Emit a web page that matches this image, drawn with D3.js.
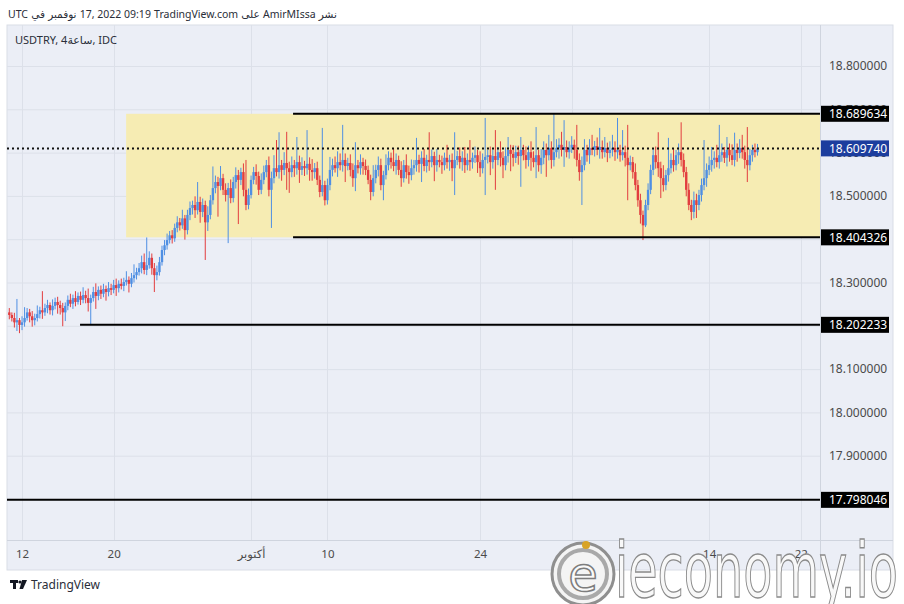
<!DOCTYPE html>
<html><head><meta charset="utf-8">
<script src="https://cdn.jsdelivr.net/npm/d3@7"></script>
<style>body{margin:0;background:#fff;} svg{display:block;font-family:"Noto Sans","DejaVu Sans",sans-serif;}</style>
</head><body><svg id="c" width="904" height="604"></svg>
<script>
// ---- data (USDTRY 4h bars, ~Sep 9 to Nov 17 2022) ----
const open=[18.231,18.225,18.218,18.208,18.213,18.202,18.208,18.218,18.231,18.222,
18.213,18.218,18.227,18.236,18.231,18.241,18.248,18.236,18.246,18.255,
18.248,18.241,18.231,18.246,18.260,18.251,18.264,18.255,18.269,18.260,
18.271,18.264,18.253,18.264,18.278,18.269,18.283,18.274,18.285,18.278,
18.287,18.283,18.294,18.287,18.297,18.292,18.301,18.306,18.297,18.310,
18.317,18.324,18.333,18.347,18.329,18.340,18.357,18.333,18.317,18.324,
18.347,18.375,18.386,18.398,18.409,18.402,18.426,18.439,18.432,18.448,
18.421,18.456,18.472,18.479,18.467,18.486,18.463,18.479,18.439,18.456,
18.490,18.518,18.532,18.523,18.541,18.514,18.502,18.518,18.495,18.532,
18.548,18.537,18.555,18.514,18.479,18.502,18.537,18.555,18.546,18.514,
18.537,18.555,18.571,18.514,18.541,18.564,18.555,18.571,18.560,18.576,
18.564,18.555,18.571,18.564,18.578,18.560,18.569,18.564,18.574,18.560,
18.555,18.564,18.537,18.509,18.525,18.490,18.525,18.560,18.571,18.564,
18.578,18.571,18.583,18.569,18.576,18.560,18.541,18.571,18.564,18.578,
18.569,18.560,18.537,18.509,18.541,18.560,18.571,18.525,18.548,18.571,
18.588,18.578,18.569,18.583,18.560,18.541,18.571,18.555,18.548,18.564,
18.571,18.583,18.574,18.588,18.569,18.583,18.578,18.592,18.571,18.583,
18.578,18.571,18.588,18.578,18.583,18.564,18.583,18.592,18.578,18.588,
18.571,18.583,18.578,18.588,18.594,18.578,18.564,18.583,18.590,18.594,
18.578,18.592,18.583,18.601,18.588,18.571,18.592,18.606,18.597,18.588,
18.601,18.592,18.606,18.594,18.583,18.601,18.588,18.578,18.594,18.571,
18.588,18.606,18.594,18.611,18.583,18.601,18.611,18.618,18.606,18.613,
18.601,18.611,18.618,18.606,18.583,18.555,18.571,18.606,18.594,18.611,
18.606,18.615,18.606,18.613,18.601,18.611,18.599,18.606,18.611,18.601,
18.606,18.594,18.601,18.588,18.571,18.578,18.555,18.525,18.490,18.456,
18.432,18.479,18.514,18.560,18.594,18.578,18.564,18.541,18.525,18.548,
18.564,18.583,18.571,18.594,18.601,18.583,18.555,18.514,18.479,18.463,
18.490,18.479,18.502,18.525,18.541,18.560,18.571,18.583,18.588,18.578,
18.594,18.601,18.588,18.606,18.594,18.583,18.606,18.599,18.611,18.601,
18.583,18.571,18.594,18.606,18.601];
const high=[18.241,18.231,18.230,18.262,18.218,18.222,18.243,18.241,18.239,18.234,
18.228,18.247,18.244,18.280,18.251,18.260,18.254,18.261,18.265,18.267,
18.258,18.253,18.254,18.270,18.274,18.272,18.280,18.277,18.279,18.289,
18.281,18.286,18.272,18.290,18.298,18.291,18.293,18.297,18.293,18.301,
18.297,18.306,18.309,18.305,18.309,18.311,18.326,18.314,18.322,18.342,
18.334,18.345,18.362,18.367,18.404,18.372,18.367,18.345,18.339,18.359,
18.385,18.398,18.413,18.419,18.421,18.436,18.453,18.449,18.468,18.456,
18.468,18.487,18.489,18.499,18.532,18.498,18.494,18.489,18.476,18.502,
18.568,18.547,18.544,18.569,18.551,18.529,18.530,18.538,18.544,18.566,
18.560,18.565,18.575,18.583,18.517,18.547,18.567,18.573,18.556,18.552,
18.570,18.583,18.591,18.556,18.594,18.629,18.647,18.583,18.601,18.648,
18.579,18.591,18.583,18.636,18.593,18.589,18.581,18.652,18.589,18.585,
18.576,18.579,18.547,18.657,18.535,18.540,18.590,18.586,18.591,18.603,
18.598,18.664,18.598,18.588,18.596,18.575,18.624,18.583,18.596,18.588,
18.584,18.570,18.549,18.571,18.572,18.591,18.586,18.558,18.596,18.603,
18.600,18.608,18.598,18.593,18.580,18.583,18.596,18.570,18.584,18.583,
18.634,18.595,18.603,18.608,18.595,18.647,18.607,18.602,18.608,18.595,
18.593,18.600,18.618,18.595,18.598,18.647,18.604,18.612,18.603,18.613,
18.598,18.629,18.600,18.614,18.606,18.603,18.598,18.680,18.606,18.614,
18.607,18.652,18.613,18.626,18.603,18.612,18.636,18.618,18.617,18.616,
18.616,18.636,18.618,18.614,18.616,18.626,18.603,18.659,18.606,18.608,
18.626,18.621,18.641,18.626,18.690,18.631,18.633,18.648,18.675,18.628,
18.626,18.638,18.630,18.664,18.598,18.591,18.631,18.618,18.631,18.641,
18.627,18.635,18.657,18.628,18.636,18.623,18.626,18.641,18.626,18.680,
18.618,18.652,18.616,18.664,18.593,18.590,18.575,18.537,18.505,18.466,
18.491,18.529,18.572,18.609,18.614,18.647,18.579,18.571,18.560,18.634,
18.598,18.608,18.606,18.621,18.670,18.598,18.567,18.529,18.491,18.510,
18.505,18.514,18.540,18.629,18.575,18.591,18.613,18.603,18.618,18.664,
18.621,18.613,18.636,18.621,18.619,18.646,18.621,18.631,18.641,18.616,
18.659,18.609,18.618,18.621,18.620];
const low=[18.215,18.210,18.196,18.188,18.183,18.190,18.198,18.212,18.208,18.198,
18.201,18.210,18.217,18.216,18.223,18.229,18.226,18.224,18.238,18.228,
18.226,18.199,18.211,18.236,18.243,18.239,18.245,18.249,18.248,18.252,
18.252,18.233,18.203,18.256,18.239,18.259,18.262,18.266,18.258,18.268,
18.271,18.275,18.269,18.277,18.284,18.280,18.293,18.277,18.289,18.300,
18.307,18.316,18.321,18.319,18.317,18.332,18.318,18.278,18.305,18.316,
18.339,18.363,18.376,18.390,18.390,18.394,18.416,18.420,18.424,18.399,
18.411,18.444,18.457,18.449,18.457,18.438,18.451,18.352,18.419,18.446,
18.480,18.506,18.452,18.513,18.502,18.487,18.391,18.483,18.485,18.517,
18.435,18.525,18.499,18.467,18.469,18.494,18.527,18.526,18.502,18.504,
18.527,18.543,18.499,18.426,18.529,18.545,18.540,18.535,18.548,18.514,
18.507,18.543,18.544,18.549,18.530,18.548,18.546,18.549,18.535,18.535,
18.540,18.525,18.497,18.499,18.478,18.480,18.513,18.545,18.554,18.544,
18.559,18.556,18.532,18.559,18.545,18.521,18.511,18.552,18.549,18.549,
18.548,18.527,18.490,18.499,18.529,18.545,18.513,18.490,18.538,18.559,
18.563,18.557,18.549,18.548,18.521,18.531,18.540,18.528,18.536,18.549,
18.556,18.554,18.532,18.557,18.554,18.558,18.566,18.534,18.556,18.566,
18.551,18.559,18.563,18.558,18.534,18.502,18.571,18.563,18.558,18.553,
18.559,18.558,18.563,18.576,18.553,18.544,18.552,18.502,18.575,18.548,
18.563,18.514,18.571,18.568,18.541,18.559,18.577,18.557,18.568,18.576,
18.572,18.521,18.582,18.563,18.568,18.558,18.566,18.541,18.556,18.551,
18.573,18.544,18.582,18.563,18.568,18.589,18.586,18.591,18.567,18.589,
18.586,18.599,18.586,18.568,18.535,18.479,18.559,18.579,18.574,18.594,
18.591,18.594,18.586,18.586,18.589,18.578,18.587,18.591,18.581,18.586,
18.579,18.582,18.568,18.490,18.559,18.540,18.513,18.475,18.436,18.398,
18.428,18.467,18.504,18.548,18.563,18.544,18.495,18.510,18.513,18.533,
18.552,18.556,18.559,18.574,18.568,18.543,18.499,18.467,18.444,18.448,
18.449,18.467,18.487,18.513,18.521,18.548,18.556,18.563,18.566,18.563,
18.579,18.576,18.568,18.579,18.571,18.568,18.579,18.587,18.586,18.563,
18.532,18.559,18.579,18.589,18.593];
const close=[18.225,18.218,18.208,18.213,18.202,18.208,18.218,18.231,18.222,18.213,
18.218,18.227,18.236,18.231,18.241,18.248,18.236,18.246,18.255,18.248,
18.241,18.231,18.246,18.260,18.251,18.264,18.255,18.269,18.260,18.271,
18.264,18.253,18.264,18.278,18.269,18.283,18.274,18.285,18.278,18.287,
18.283,18.294,18.287,18.297,18.292,18.301,18.306,18.297,18.310,18.317,
18.324,18.333,18.347,18.329,18.340,18.357,18.333,18.317,18.324,18.347,
18.375,18.386,18.398,18.409,18.402,18.426,18.439,18.432,18.448,18.421,
18.456,18.472,18.479,18.467,18.486,18.463,18.479,18.439,18.456,18.490,
18.518,18.532,18.523,18.541,18.514,18.502,18.518,18.495,18.532,18.548,
18.537,18.555,18.514,18.479,18.502,18.537,18.555,18.546,18.514,18.537,
18.555,18.571,18.514,18.541,18.564,18.555,18.571,18.560,18.576,18.564,
18.555,18.571,18.564,18.578,18.560,18.569,18.564,18.574,18.560,18.555,
18.564,18.537,18.509,18.525,18.490,18.525,18.560,18.571,18.564,18.578,
18.571,18.583,18.569,18.576,18.560,18.541,18.571,18.564,18.578,18.569,
18.560,18.537,18.509,18.541,18.560,18.571,18.525,18.548,18.571,18.588,
18.578,18.569,18.583,18.560,18.541,18.571,18.555,18.548,18.564,18.571,
18.583,18.574,18.588,18.569,18.583,18.578,18.592,18.571,18.583,18.578,
18.571,18.588,18.578,18.583,18.564,18.583,18.592,18.578,18.588,18.571,
18.583,18.578,18.588,18.594,18.578,18.564,18.583,18.590,18.594,18.578,
18.592,18.583,18.601,18.588,18.571,18.592,18.606,18.597,18.588,18.601,
18.592,18.606,18.594,18.583,18.601,18.588,18.578,18.594,18.571,18.588,
18.606,18.594,18.611,18.583,18.601,18.611,18.618,18.606,18.613,18.601,
18.611,18.618,18.606,18.583,18.555,18.571,18.606,18.594,18.611,18.606,
18.615,18.606,18.613,18.601,18.611,18.599,18.606,18.611,18.601,18.606,
18.594,18.601,18.588,18.571,18.578,18.555,18.525,18.490,18.456,18.432,
18.479,18.514,18.560,18.594,18.578,18.564,18.541,18.525,18.548,18.564,
18.583,18.571,18.594,18.601,18.583,18.555,18.514,18.479,18.463,18.490,
18.479,18.502,18.525,18.541,18.560,18.571,18.583,18.588,18.578,18.594,
18.601,18.588,18.606,18.594,18.583,18.606,18.599,18.611,18.601,18.583,
18.571,18.594,18.606,18.601,18.60974];

// time axis: bar index of each labelled session start
const timeTickIndex=[5,41,95,125,185,221,275,311];
const timeTickLabels=["12","20","أكتوبر","10","24","نوفمبر","14","22"];
// price axis ticks
const priceTicks=[17.8,17.9,18.0,18.1,18.2,18.3,18.4,18.5,18.6,18.7,18.8];
// drawn horizontal levels and the bar index where each begins
const levelValues=[18.689634,18.404326,18.202233,17.798046];
const levelStartIndex=[111.5,111.5,27.8,-4];
// range box: start bar index, top and bottom prices
const boxStartIndex=[45.9];
const boxPrices=[18.689634,18.404326];
const lastPrice=18.60974;

// ---- layout ----
const svg=d3.select("#c");
const paneL=7, paneR=893, paneT=25, paneB=570, plotR=820, plotB=540;
const x=d3.scaleLinear().domain([0,294]).range([9.3,757.5]);
const y=d3.scaleLinear().domain([17.8,18.8]).range([499,66]);
const fmt=d3.format(".6f");

svg.append("rect").attr("x",0).attr("y",0).attr("width",904).attr("height",604).attr("fill","#fff");
svg.append("rect").attr("x",paneL).attr("y",paneT).attr("width",paneR-paneL).attr("height",paneB-paneT)
  .attr("fill","#ebeef6").attr("stroke","#d9dde6");

svg.append("defs").append("clipPath").attr("id","plot").append("rect")
  .attr("x",paneL).attr("y",paneT).attr("width",plotR-paneL).attr("height",plotB-paneT);

// grid
const grid=svg.append("g").attr("clip-path","url(#plot)");
grid.selectAll(".hg").data(priceTicks).join("line")
  .attr("x1",paneL).attr("x2",plotR).attr("y1",d=>y(d)+0.5).attr("y2",d=>y(d)+0.5)
  .attr("stroke","#dce0e9").attr("stroke-width",1);
grid.selectAll(".vg").data(timeTickIndex).join("line")
  .attr("x1",d=>Math.round(x(d))+0.5).attr("x2",d=>Math.round(x(d))+0.5).attr("y1",paneT).attr("y2",plotB)
  .attr("stroke","#dce0e9").attr("stroke-width",1);

// range box
const plot=svg.append("g").attr("clip-path","url(#plot)");
plot.selectAll(".box").data(boxStartIndex).join("rect")
  .attr("x",d=>x(d)).attr("y",y(boxPrices[0])).attr("width",d=>plotR-x(d))
  .attr("height",y(boxPrices[1])-y(boxPrices[0])).attr("fill","#f6ecb3");

// candles
const bars=d3.range(close.length);
const upC="#4f8fe3", dnC="#e23d3f";
const col=i=>close[i]>=open[i]?upC:dnC;
plot.selectAll(".wick").data(bars).join("line")
  .attr("x1",i=>x(i)).attr("x2",i=>x(i)).attr("y1",i=>y(high[i])).attr("y2",i=>y(low[i]))
  .attr("stroke",col).attr("stroke-width",1);
plot.selectAll(".body").data(bars).join("rect")
  .attr("x",i=>x(i)-1.2).attr("width",2.4)
  .attr("y",i=>y(Math.max(open[i],close[i])))
  .attr("height",i=>Math.max(1,Math.abs(y(open[i])-y(close[i]))))
  .attr("fill",col);

// level lines
plot.selectAll(".lvl").data(levelValues).join("line")
  .attr("x1",(d,k)=>x(levelStartIndex[k])).attr("x2",plotR)
  .attr("y1",d=>y(d)).attr("y2",d=>y(d))
  .attr("stroke","#000").attr("stroke-width",2);
plot.append("line").attr("x1",paneL).attr("x2",plotR).attr("y1",y(lastPrice)).attr("y2",y(lastPrice))
  .attr("stroke","#111").attr("stroke-width",2).attr("stroke-dasharray","2,3");

// separators
svg.append("line").attr("x1",plotR+0.5).attr("x2",plotR+0.5).attr("y1",paneT).attr("y2",paneB).attr("stroke","#cfd4de");
svg.append("line").attr("x1",paneL).attr("x2",paneR).attr("y1",plotB+0.5).attr("y2",plotB+0.5).attr("stroke","#cfd4de");

// price axis
const pa=svg.append("g").attr("transform",`translate(${plotR},0)`)
  .call(d3.axisRight(y).tickValues(priceTicks).tickFormat(fmt).tickSize(0).tickPadding(9));
pa.select(".domain").remove();
pa.selectAll("text").attr("fill","#4a4a4a").attr("font-size",12).attr("font-family","'Noto Sans','DejaVu Sans',sans-serif");

// price labels
const labs=levelValues.map(v=>({v,c:"#000"})).concat([{v:lastPrice,c:"#1c3d9e"}]);
const lg=svg.append("g");
lg.selectAll("rect").data(labs).join("rect")
  .attr("x",plotR+1).attr("y",d=>y(d.v)-8).attr("width",68).attr("height",16).attr("fill",d=>d.c);
lg.selectAll("text").data(labs).join("text")
  .attr("x",plotR+9).attr("y",d=>y(d.v)+4.5).attr("fill","#fff").attr("font-size",12)
  .text(d=>fmt(d.v));

// time axis
const ta=svg.append("g").attr("transform",`translate(0,${plotB})`)
  .call(d3.axisBottom(x).tickValues(timeTickIndex).tickFormat((d,k)=>timeTickLabels[k]).tickSize(0).tickPadding(10));
ta.select(".domain").remove();
ta.selectAll("text").attr("fill","#4a4a4a").attr("font-size",11.5).attr("font-family","'Noto Sans','DejaVu Sans',sans-serif");

// header pieces (laid out left to right as in the picture)
function pieces(list,x0,yy,gap,size,color){
  let cx=x0;
  list.forEach(p=>{
    const t=svg.append("text").attr("x",cx).attr("y",yy).attr("font-size",size).attr("fill",color).text(p);
    cx+=t.node().getComputedTextLength()+gap;
  });
}
pieces(["UTC","في","نوفمبر","17, 2022 09:19","TradingView.com","على","AmirMIssa","نشر"],8,18,3.2,10.5,"#2a2e39");
pieces(["USDTRY, 4","ساعة",", IDC"],15,44,0,11,"#2a2e39");

// TradingView footer logo
const tv=svg.append("g").attr("fill","#131722");
tv.append("rect").attr("x",10).attr("y",580).attr("width",8).attr("height",3);
tv.append("rect").attr("x",13).attr("y",580).attr("width",3).attr("height",9);
tv.append("circle").attr("cx",20).attr("cy",582).attr("r",1.6);
tv.append("path").attr("d","M22,580 L27,580 L23,589 L19.5,589 Z");
svg.append("text").attr("x",31).attr("y",589).attr("font-size",12).attr("fill","#2a2e39").text("TradingView");

// ieconomy.io watermark
const wm=svg.append("g");
wm.append("circle").attr("cx",583).attr("cy",574).attr("r",31).attr("fill","#f4f4f4").attr("stroke","#8f8f8f").attr("stroke-width",3);
wm.append("circle").attr("cx",583).attr("cy",574).attr("r",24).attr("fill","none").attr("stroke","#a9a9a9").attr("stroke-width",4);
wm.append("text").attr("x",583).attr("y",591).attr("text-anchor","middle").attr("font-size",48)
  .attr("font-family","'DejaVu Sans',sans-serif").attr("fill","#fafafa").attr("stroke","#7d7d7d").attr("stroke-width",1.5).text("e");
wm.append("circle").attr("cx",586).attr("cy",545).attr("r",4).attr("fill","#d8a326");
wm.append("text").attr("x",615).attr("y",597).attr("font-size",76).attr("textLength",283).attr("lengthAdjust","spacingAndGlyphs")
  .attr("font-family","'DejaVu Sans',sans-serif")
  .attr("fill","#f8f8f8").attr("stroke","#8a8a8a").attr("stroke-width",1.4).text("ieconomy.io");
</script></body></html>
